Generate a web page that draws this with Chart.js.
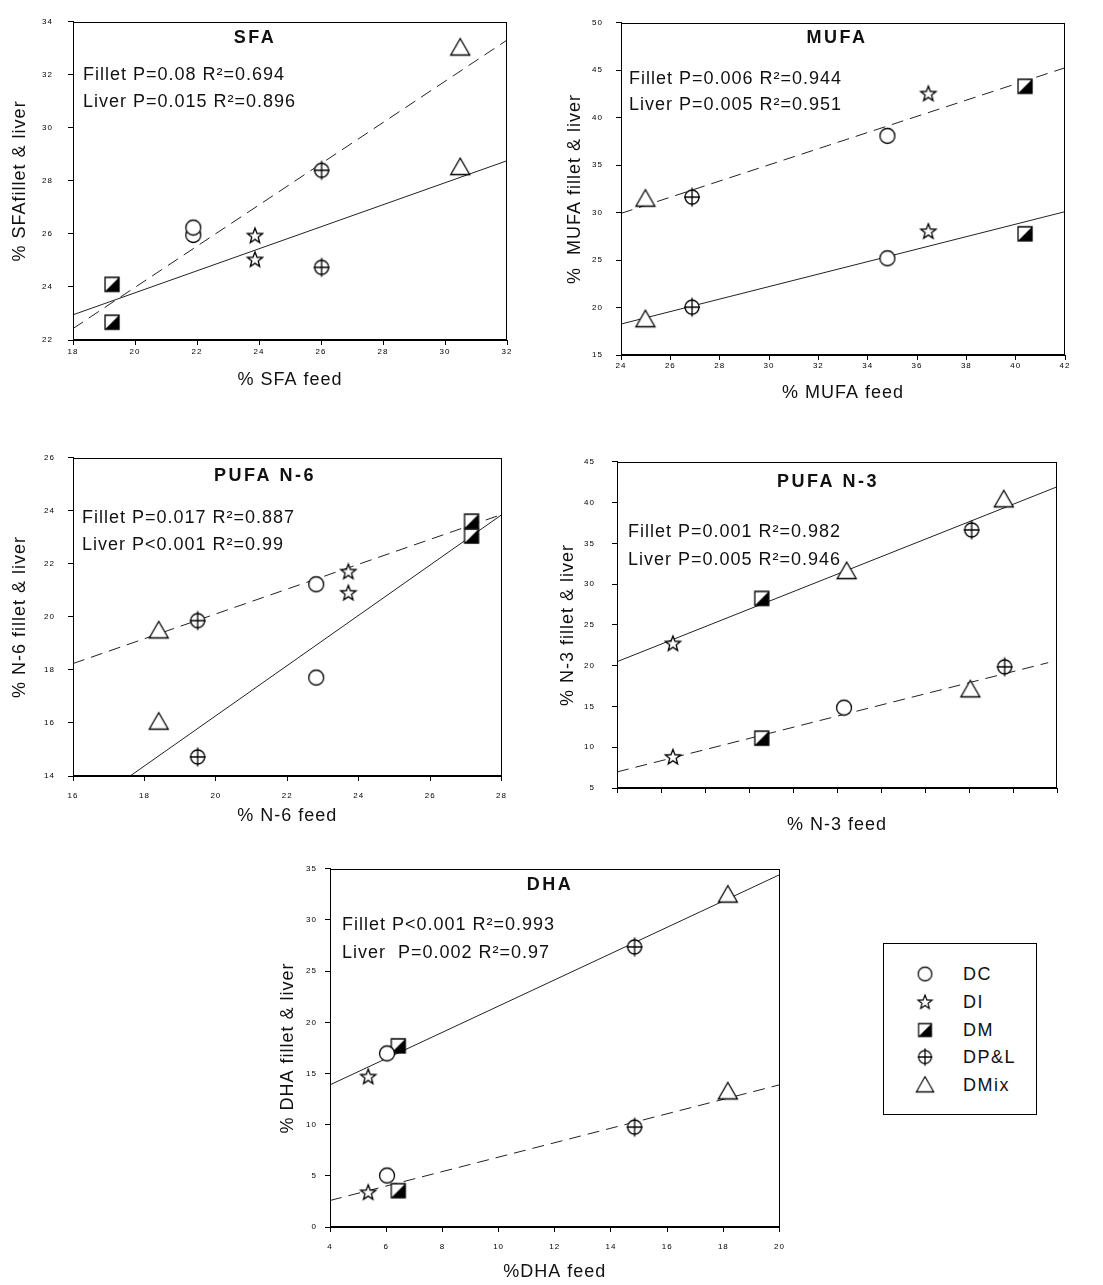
<!DOCTYPE html>
<html lang="en">
<head>
<meta charset="utf-8">
<title>Fatty acids in fillet and liver vs feed</title>
<script src="https://cdn.jsdelivr.net/npm/chart.js"></script>
<style>
  html, body { margin: 0; padding: 0; background: #fff; overflow: hidden; }
  body { width: 1103px; height: 1285px; position: relative; font-family: "Liberation Sans", Arial, sans-serif; }
  canvas.panel { position: absolute; }
  #legend { position: absolute; left: 883px; top: 943px; width: 152px; height: 170px; border: 1.5px solid #000; }
  #legend .row { position: absolute; left: 0; width: 100%; height: 24px; }
  #legend canvas { position: absolute; left: 30px; top: 1px; }
  #legend span { position: absolute; left: 79px; top: 2px; font-size: 18px; letter-spacing: 1.5px; color: #111; }
</style>
</head>
<body>
<div id="legend"></div>

<script>
const diets = ['DC', 'DI', 'DM', 'DP&L', 'DMix'];

// SFA (same feed value for fillet and liver)
const sfaFeed = [21.88, 23.87, 19.26, 26.02, 30.49];
const sfaFillet = [25.96, 25.04, 24.10, 24.74, 28.52];
const sfaLiver = [26.24, 25.94, 22.67, 28.40, 33.03];
const sfaFitX = [18, 32];
const sfaFilletFit = [22.95, 28.76];
const sfaLiverFit = [22.43, 33.31];

// MUFA
const mufaFeed = [34.80, 36.46, 40.38, 26.88, 24.99];
const mufaFillet = [25.19, 28.04, 27.77, 20.04, 18.77];
const mufaLiver = [38.09, 42.55, 43.31, 31.64, 31.47];
const mufaFitX = [24, 42];
const mufaFilletFit = [18.26, 30.10];
const mufaLiverFit = [29.92, 45.26];

// PUFA n-6
const n6Feed = [22.81, 23.71, 27.16, 19.49, 18.40];
const n6Fillet = [17.71, 20.91, 23.05, 14.72, 16.05];
const n6Liver = [21.23, 21.71, 23.61, 19.86, 19.49];
const n6FilletFitX = [17.6, 28];
const n6FilletFit = [14, 23.85];
const n6LiverFitX = [16, 28];
const n6LiverFit = [18.24, 23.86];

// PUFA n-3 (x axis unlabelled, markers as printed)
const n3FilletFeed = [1.27, 3.29, 5.22, 8.06, 8.79];
const n3Fillet = [22.73, 28.25, 31.60, 36.65, 40.40];
const n3FilletMarks = ['DI', 'DM', 'DMix', 'DP&L', 'DMix'];
const n3LiverFeed = [1.27, 3.29, 5.16, 8.03, 8.81];
const n3Liver = [8.82, 11.11, 14.85, 17.10, 19.86];
const n3LiverMarks = ['DI', 'DM', 'DC', 'DMix', 'DP&L'];
const n3FilletFitX = [0, 10];
const n3FilletFit = [20.49, 41.93];
const n3LiverFitX = [0, 9.8];
const n3LiverFit = [6.97, 20.37];

// DHA
const dhaFeed = [6.03, 5.36, 6.43, 14.84, 18.16];
const dhaFillet = [16.96, 14.70, 17.70, 27.37, 32.48];
const dhaLiver = [5.03, 3.39, 3.55, 9.76, 13.25];
const dhaFitX = [4, 20];
const dhaFilletFit = [13.89, 34.42];
const dhaLiverFit = [2.59, 13.89];

const FONT = '"Liberation Sans", Arial, sans-serif';
const INK = '#111';

// marker images
function makeMarker(kind) {
  const s = 24, m = s / 2;
  const c = document.createElement('canvas');
  c.width = s; c.height = s;
  const g = c.getContext('2d');
  g.lineWidth = 1.3;
  g.strokeStyle = '#000';
  g.fillStyle = '#fff';
  g.beginPath();
  if (kind === 'DC') {
    g.arc(m, m, 7.5, 0, Math.PI * 2);
    g.fill(); g.stroke();
  } else if (kind === 'DI') {
    for (let i = 0; i < 10; i++) {
      const r = i % 2 ? 3.4 : 8;
      const a = -Math.PI / 2 + i * Math.PI / 5;
      g.lineTo(m + r * Math.cos(a), m + 0.5 + r * Math.sin(a));
    }
    g.closePath(); g.fill(); g.stroke();
  } else if (kind === 'DM') {
    g.rect(m - 7, m - 7, 14, 14);
    g.fill(); g.stroke();
    g.beginPath();
    g.moveTo(m + 7, m - 7); g.lineTo(m + 7, m + 7); g.lineTo(m - 7, m + 7);
    g.closePath();
    g.fillStyle = '#000'; g.fill();
  } else if (kind === 'DP&L') {
    g.arc(m, m, 7, 0, Math.PI * 2);
    g.fill(); g.stroke();
    g.beginPath();
    g.moveTo(m, m - 9.5); g.lineTo(m, m + 9.5);
    g.moveTo(m - 8, m); g.lineTo(m + 8, m);
    g.stroke();
  } else {
    g.moveTo(m, m - 9); g.lineTo(m + 9.5, m + 7.5); g.lineTo(m - 9.5, m + 7.5);
    g.closePath(); g.fill(); g.stroke();
  }
  return c;
}
const markers = {};
diets.forEach(d => { markers[d] = makeMarker(d); });

// frame, in-plot title and statistics text
const panelText = {
  id: 'panelText',
  beforeDraw(chart) {
    chart.ctx.letterSpacing = '1px';
  },
  afterDraw(chart, args, o) {
    const a = chart.chartArea;
    const ctx = chart.ctx;
    ctx.save();
    ctx.strokeStyle = '#000';
    ctx.lineWidth = 1;
    ctx.strokeRect(Math.round(a.left) + 0.5, Math.round(a.top) + 0.5,
      Math.round(a.right - a.left) - 1, Math.round(a.bottom - a.top) - 1);
    ctx.fillStyle = INK;
    ctx.textBaseline = 'middle';
    ctx.font = 'bold 18px ' + FONT;
    ctx.letterSpacing = '2.5px';
    ctx.textAlign = 'center';
    ctx.fillText(o.title, a.left + o.titleDx, a.top + o.titleDy);
    ctx.font = '18px ' + FONT;
    ctx.letterSpacing = '1px';
    ctx.textAlign = 'left';
    o.lines.forEach((t, i) => ctx.fillText(t, a.left + o.textDx, a.top + o.textDy[i]));
    ctx.restore();
  }
};

function pts(xs, ys) {
  return xs.map((x, i) => ({ x: x, y: ys[i] }));
}

function buildPanel(cfg) {
  const boxL = Math.round(cfg.yTitleX - 10.8 - 9);
  const boxT = cfg.plot.t - 10;
  const boxR = cfg.plot.r + 14;
  const boxB = Math.round(cfg.xTitleY + 10.8 + cfg.xTitlePad);
  const canvas = document.createElement('canvas');
  canvas.className = 'panel';
  canvas.width = boxR - boxL;
  canvas.height = boxB - boxT;
  canvas.style.left = boxL + 'px';
  canvas.style.top = boxT + 'px';
  document.body.appendChild(canvas);
  const yw = cfg.plot.l - boxL;
  const xh = boxB - cfg.plot.b;

  const datasets = diets.map(d => {
    const data = [];
    cfg.series.forEach(s => {
      s.x.forEach((x, i) => { if (s.marks[i] === d) data.push({ x: x, y: s.y[i] }); });
    });
    return { label: d, data: data, pointStyle: markers[d], pointRadius: 8, showLine: false };
  });
  cfg.fits.forEach(f => {
    datasets.push({
      label: f.name, data: pts(f.x, f.y), showLine: true, pointRadius: 0,
      borderColor: '#222', borderWidth: 1, borderDash: f.dashed ? [12, 7] : [], fill: false
    });
  });

  const tickFont = { family: FONT, size: 8 };
  new Chart(canvas, {
    type: 'scatter',
    data: { datasets: datasets },
    options: {
      responsive: false,
      animation: false,
      events: [],
      layout: { padding: { top: 10, right: 14, left: 0, bottom: 0 } },
      plugins: {
        legend: { display: false },
        tooltip: { enabled: false },
        panelText: cfg.text
      },
      scales: {
        x: {
          type: 'linear', min: cfg.xr[0], max: cfg.xr[1],
          ticks: {
            stepSize: cfg.xr[2], color: '#000', font: tickFont, padding: cfg.xTickPad,
            callback: cfg.xLabels ? (v => v) : (() => '')
          },
          grid: { drawOnChartArea: false, drawTicks: true, tickLength: 5, color: '#000' },
          border: { color: '#000', width: 1 },
          title: { display: true, text: cfg.xTitle, color: INK, font: { family: FONT, size: 18 },
                   padding: { top: 0, bottom: cfg.xTitlePad } },
          afterFit: s => { s.height = xh; }
        },
        y: {
          type: 'linear', min: cfg.yr[0], max: cfg.yr[1],
          ticks: { stepSize: cfg.yr[2], color: '#000', font: tickFont, padding: cfg.yTickPad },
          grid: { drawOnChartArea: false, drawTicks: true, tickLength: 5, color: '#000' },
          border: { color: '#000', width: 1 },
          title: { display: true, text: cfg.yTitle, color: INK, font: { family: FONT, size: 18 },
                   padding: { top: 9, bottom: 0 } },
          afterFit: s => { s.width = yw; }
        }
      }
    },
    plugins: [panelText]
  });
}

buildPanel({
  plot: { l: 73, t: 12, r: 507, b: 340 }, yTitleX: 20, xTitleY: 380, xTitlePad: 9,
  xr: [18, 32, 2], yr: [22, 34, 2], xLabels: true, xTickPad: 2, yTickPad: 15,
  xTitle: '% SFA feed', yTitle: '% SFAfillet & liver',
  series: [
    { x: sfaFeed, y: sfaFillet, marks: diets },
    { x: sfaFeed, y: sfaLiver, marks: diets }
  ],
  fits: [
    { name: 'Fillet fit', x: sfaFitX, y: sfaFilletFit, dashed: false },
    { name: 'Liver fit', x: sfaFitX, y: sfaLiverFit, dashed: true }
  ],
  text: { title: 'SFA', titleDx: 182, titleDy: 16, textDx: 10, textDy: [53, 80],
          lines: ['Fillet P=0.08 R²=0.694', 'Liver P=0.015 R²=0.896'] }
});

buildPanel({
  plot: { l: 621, t: 15, r: 1065, b: 355 }, yTitleX: 575, xTitleY: 393, xTitlePad: 9,
  xr: [24, 42, 2], yr: [15, 50, 5], xLabels: true, xTickPad: 1, yTickPad: 13,
  xTitle: '% MUFA feed', yTitle: '%  MUFA fillet & liver',
  series: [
    { x: mufaFeed, y: mufaFillet, marks: diets },
    { x: mufaFeed, y: mufaLiver, marks: diets }
  ],
  fits: [
    { name: 'Fillet fit', x: mufaFitX, y: mufaFilletFit, dashed: false },
    { name: 'Liver fit', x: mufaFitX, y: mufaLiverFit, dashed: true }
  ],
  text: { title: 'MUFA', titleDx: 216, titleDy: 15, textDx: 8, textDy: [56, 82],
          lines: ['Fillet P=0.006 R²=0.944', 'Liver P=0.005 R²=0.951'] }
});

buildPanel({
  plot: { l: 73, t: 450, r: 502, b: 776 }, yTitleX: 20, xTitleY: 816, xTitlePad: 9,
  xr: [16, 28, 2], yr: [14, 26, 2], xLabels: true, xTickPad: 10, yTickPad: 13,
  xTitle: '% N-6 feed', yTitle: '% N-6 fillet & liver',
  series: [
    { x: n6Feed, y: n6Fillet, marks: diets },
    { x: n6Feed, y: n6Liver, marks: diets }
  ],
  fits: [
    { name: 'Fillet fit', x: n6FilletFitX, y: n6FilletFit, dashed: false },
    { name: 'Liver fit', x: n6LiverFitX, y: n6LiverFit, dashed: true }
  ],
  text: { title: 'PUFA N-6', titleDx: 192, titleDy: 18, textDx: 9, textDy: [60, 87],
          lines: ['Fillet P=0.017 R²=0.887', 'Liver P<0.001 R²=0.99'] }
});

buildPanel({
  plot: { l: 617, t: 450, r: 1057, b: 788 }, yTitleX: 568, xTitleY: 825, xTitlePad: 9,
  xr: [0, 10, 1], yr: [5, 45, 5], xLabels: false, xTickPad: 2, yTickPad: 17,
  xTitle: '% N-3 feed', yTitle: '% N-3 fillet & liver',
  series: [
    { x: n3FilletFeed, y: n3Fillet, marks: n3FilletMarks },
    { x: n3LiverFeed, y: n3Liver, marks: n3LiverMarks }
  ],
  fits: [
    { name: 'Fillet fit', x: n3FilletFitX, y: n3FilletFit, dashed: false },
    { name: 'Liver fit', x: n3LiverFitX, y: n3LiverFit, dashed: true }
  ],
  text: { title: 'PUFA N-3', titleDx: 211, titleDy: 20, textDx: 11, textDy: [70, 98],
          lines: ['Fillet P=0.001 R²=0.982', 'Liver P=0.005 R²=0.946'] }
});

buildPanel({
  plot: { l: 330, t: 866, r: 780, b: 1227 }, yTitleX: 288, xTitleY: 1272, xTitlePad: 2,
  xr: [4, 20, 2], yr: [0, 35, 5], xLabels: true, xTickPad: 10, yTickPad: 8,
  xTitle: '%DHA feed', yTitle: '% DHA fillet & liver',
  series: [
    { x: dhaFeed, y: dhaFillet, marks: diets },
    { x: dhaFeed, y: dhaLiver, marks: diets }
  ],
  fits: [
    { name: 'Fillet fit', x: dhaFitX, y: dhaFilletFit, dashed: false },
    { name: 'Liver fit', x: dhaFitX, y: dhaLiverFit, dashed: true }
  ],
  text: { title: 'DHA', titleDx: 220, titleDy: 16, textDx: 12, textDy: [56, 84],
          lines: ['Fillet P<0.001 R²=0.993', 'Liver  P=0.002 R²=0.97'] }
});

// legend box
const legend = document.getElementById('legend');
const rowTops = [18, 46, 74, 101, 129];
diets.forEach((d, i) => {
  const row = document.createElement('div');
  row.className = 'row';
  row.style.top = rowTops[i] + 'px';
  const c = makeMarker(d);
  c.style.width = '22px'; c.style.height = '22px';
  const label = document.createElement('span');
  label.textContent = d;
  row.appendChild(c);
  row.appendChild(label);
  legend.appendChild(row);
});
</script>
</body>
</html>
